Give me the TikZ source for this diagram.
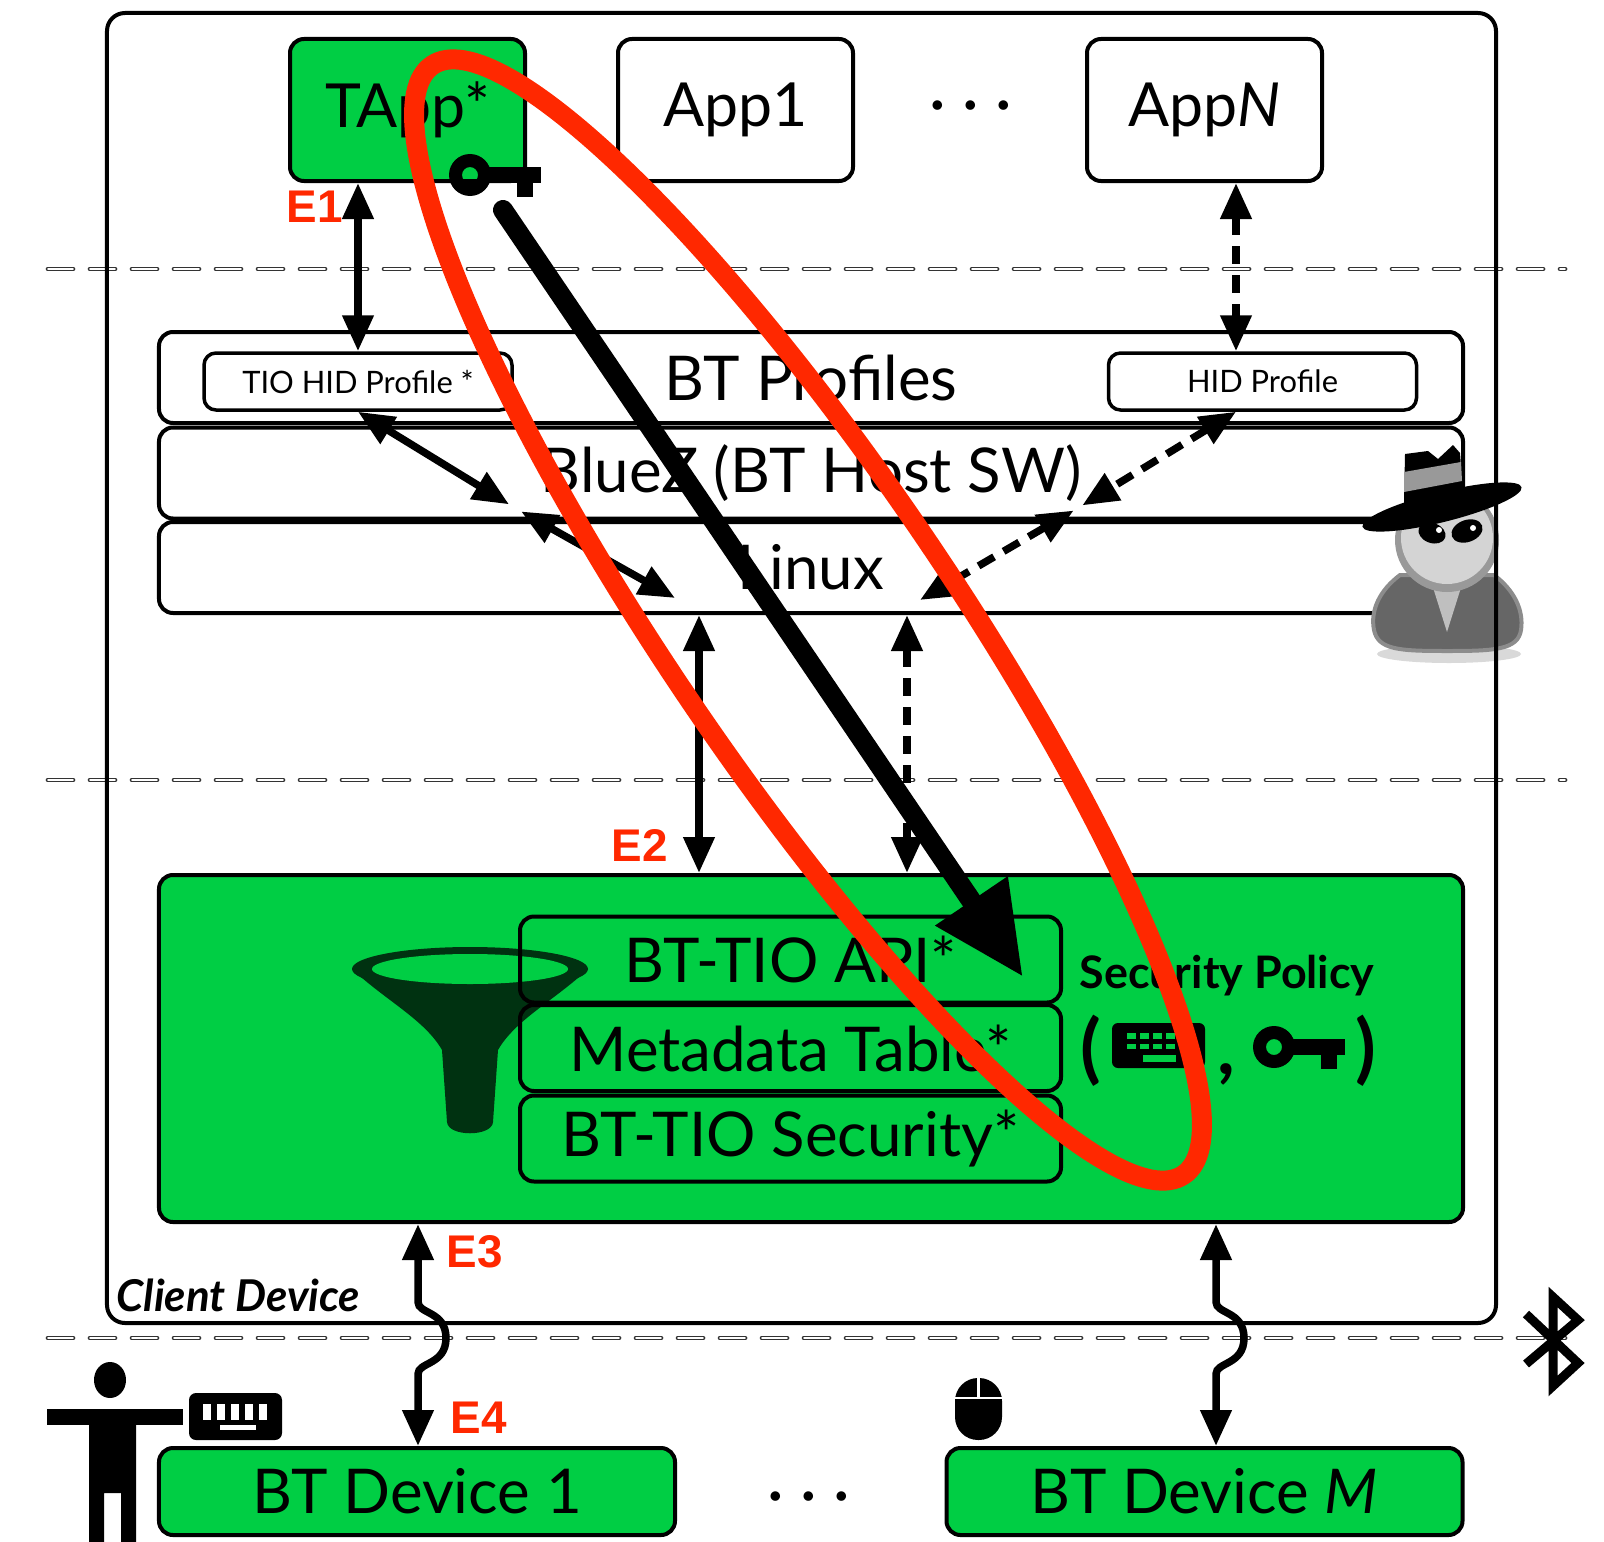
\documentclass[tikz,border=0pt]{standalone}
\usepackage{fontspec}
\setmainfont{Lato}
\newfontfamily\tagfont{Liberation Sans}
\usetikzlibrary{arrows.meta}

\definecolor{teegreen}{RGB}{0,206,68}
\definecolor{funnelgreen}{RGB}{0,50,17}
\definecolor{alertred}{RGB}{255,40,0}

\tikzset{box/.style = {draw, line width=4bp, rounded corners=14bp, inner sep=0pt}}
\tikzset{app/.style = {box, minimum width=235bp, minimum height=142bp, font=\fontsize{61}{66}\selectfont}}
\tikzset{layer/.style = {box, minimum width=1304bp, minimum height=91bp, font=\fontsize{62}{68}\selectfont}}
\tikzset{profile/.style = {box, line width=3.5bp, rounded corners=12bp, minimum width=308bp, minimum height=57bp, font=\fontsize{31}{34}\selectfont}}
\tikzset{module/.style = {box, minimum width=541bp, minimum height=86bp, font=\fontsize{62}{68}\selectfont}}
\tikzset{device/.style = {box, fill=teegreen, minimum width=516bp, minimum height=87bp, font=\fontsize{62}{68}\selectfont}}
\tikzset{link/.style = {line width=7.5bp, {Triangle[length=36bp,width=30bp]}-{Triangle[length=36bp,width=30bp]}}}
\tikzset{dashlink/.style = {link, dash pattern=on 18bp off 11bp}}
\tikzset{leak/.style = {line width=20bp, line cap=round, -{Triangle[length=92bp,width=82bp]}}}
\tikzset{tier/.style = {draw=black!80, line width=1.5bp, double=white, double distance=1.7bp, line cap=round, dash pattern=on 25bp off 17bp}}
\tikzset{elabel/.style = {font=\tagfont\bfseries\fontsize{46}{50}\selectfont, text=alertred}}
\tikzset{warnring/.style = {draw=alertred, line width=20bp}}
\tikzset{keyicon/.pic = {
    \fill[even odd rule] (0,0) circle[radius=21bp] (0,0) circle[radius=8bp];
    \fill (16,-8) rectangle (71,8);
    \fill (47,8) rectangle (63,22);
}}

\begin{document}
\begin{tikzpicture}[x=1bp,y=-1bp]
    \useasboundingbox (0,0) rectangle (1604,1542);
    \fill[white] (0,0) rectangle (1604,1542);

    % trust boundaries
    \foreach \y in {269,780,1338}
        \draw[tier] (48,\y) -- (1565,\y);

    % applications
    \node[app, fill=teegreen] (tapp) at (407.5,110) {TApp*};
    \node[app] (app1) at (735.5,110) {App1};
    \node[font=\fontsize{64}{70}\selectfont, anchor=base] (appdots) at (971,125) {· · ·};
    \node[app] (appn) at (1204.5,110) {App\textit{N}};
    \pic at (470,175) {keyicon};

    % host stack
    \node[layer] (profiles) at (811,377.5) {BT Profiles};
    \node[layer] (bluez) at (811,473) {BlueZ (BT Host SW)};
    \node[layer] (linux) at (811,567.5) {Linux};
    \node[profile] (tiohid) at (358,381.5) {TIO HID Profile *};
    \node[profile] (hid) at (1262.5,381.5) {HID Profile};

    % spy
    \fill[black, opacity=0.15] (1449,654) ellipse[x radius=72bp, y radius=9bp];
    \filldraw[fill=black!60, draw=black!45, line width=4bp] (1400,575) .. controls (1380,590) and (1370,610) .. (1374,630)
        .. controls (1378,650) and (1400,651) .. (1447,651) .. controls (1494,651) and (1518,650) .. (1521,630)
        .. controls (1524,610) and (1514,590) .. (1494,575) -- cycle;
    \fill[black!25] (1430,578) -- (1447,632) -- (1464,578) -- cycle;
    \fill[black!40] (1447,540) circle[radius=52bp];
    \fill[black!17] (1447,538) circle[radius=46bp];
    \fill[rotate around={-20:(1432,533)}] (1432,533) ellipse[x radius=14bp, y radius=10bp];
    \fill[rotate around={20:(1467,531)}] (1467,531) ellipse[x radius=16bp, y radius=11bp];
    \fill[white] (1439,530) circle[radius=3bp] (1473,528) circle[radius=3bp];
    \fill (1404,503) -- (1405,454) -- (1428,451) -- (1438,459) -- (1453,445) -- (1460,453) -- (1463,492) -- cycle;
    \fill[black!40] (1404,472) -- (1461,462) -- (1462,481) -- (1404,492) -- cycle;
    \fill[rotate around={14:(1442,507)}] (1442,507) ellipse[x radius=82bp, y radius=15bp];

    % trusted part
    \node[box, fill=teegreen, minimum width=1304bp, minimum height=347bp] (tee) at (811,1048.5) {};
    \fill[funnelgreen] (470,969) ellipse[x radius=118bp, y radius=22bp];
    \fill[funnelgreen] (352,969) .. controls (385,1000) and (425,1020) .. (442,1050) -- (447,1122)
        .. controls (448,1137) and (492,1137) .. (493,1122) -- (498,1050)
        .. controls (515,1020) and (555,1000) .. (588,969) -- cycle;
    \fill[teegreen] (470,969) ellipse[x radius=98bp, y radius=15bp];
    \node[module] (api) at (790.5,959.5) {BT-TIO API*};
    \node[module] (meta) at (790.5,1048) {Metadata Table*};
    \node[module] (tiosec) at (790.5,1138.5) {BT-TIO Security*};
    \node[font=\bfseries\fontsize{45}{48}\selectfont] (policy) at (1227,976) {Security Policy};
    \node[font=\bfseries\fontsize{76}{80}\selectfont, anchor=base] (lparen) at (1091,1074) {(};
    \node[font=\bfseries\fontsize{76}{80}\selectfont, anchor=base] (comma) at (1226,1074) {,};
    \node[font=\bfseries\fontsize{76}{80}\selectfont, anchor=base] (rparen) at (1366,1074) {)};
    \fill[rounded corners=6bp] (1112,1023) rectangle (1205,1068);
    \foreach \x in {1127,1140,1153,1166,1179} {
        \fill[teegreen] (\x,1033) rectangle ++(9,6);
        \fill[teegreen] (\x,1044) rectangle ++(9,5);
    }
    \fill[teegreen] (1143,1055) rectangle (1176,1062);
    \pic at (1274,1047) {keyicon};

    % peripherals
    \node[device] (dev1) at (417,1491.5) {BT Device 1};
    \node[font=\fontsize{64}{70}\selectfont, anchor=base] (devdots) at (809,1515) {· · ·};
    \node[device] (devm) at (1204.5,1491.5) {BT Device \textit{M}};

    % user with keyboard
    \fill (110,1380) ellipse[x radius=16bp, y radius=18bp];
    \fill (47,1409) rectangle (183,1425);
    \fill (89,1420) -- (89,1542) -- (104,1542) -- (104,1493) -- (121,1493) -- (121,1542) -- (136,1542) -- (136,1420) -- cycle;
    \fill[rounded corners=7bp] (189,1393) rectangle (282,1440);
    \foreach \x in {203,217,231,245,259}
        \fill[white] (\x,1404) rectangle ++(8,16);
    \fill[white] (220,1425) rectangle (256,1430);

    % mouse
    \fill[rounded corners=23bp] (955,1378) rectangle (1002,1440);
    \draw[white, line width=2.5bp] (978.5,1376) -- (978.5,1398) (953,1398) -- (1004,1398);

    % bluetooth
    \draw[line width=9bp, line join=miter] (1526,1314) -- (1578,1363) -- (1553,1386) -- (1553,1297) -- (1578,1320) -- (1526,1364);

    % connectors
    \draw[link] (tiohid.north) -- (tiohid.north |- tapp.south);
    \coordinate (hidport) at (1236,0);
    \draw[dashlink] (hidport |- appn.south) -- (hidport |- hid.north);
    \coordinate (tiojoin) at (515,508);
    \coordinate (tiokernel) at (675,598);
    \draw[link, shorten >=7bp] (tiohid.south) -- (tiojoin);
    \draw[link, shorten <=7bp] (tiojoin) -- (tiokernel);
    \coordinate (hidjoin) at (1078,508);
    \coordinate (hidkernel) at (920,600);
    \draw[dashlink, shorten >=5bp] (hidport |- hid.south) -- (hidjoin);
    \draw[dashlink, shorten <=5bp] (hidjoin) -- (hidkernel);
    \coordinate (tioport) at (699,0);
    \draw[link] (tioport |- linux.south) -- (tioport |- tee.north);
    \coordinate (hidtee) at (907,0);
    \draw[dashlink] (hidtee |- linux.south) -- (hidtee |- tee.north);
    \coordinate (kbdport) at (418,0);
    \coordinate (mouseport) at (1216,0);
    \foreach \p in {kbdport,mouseport}
        \draw[link] (\p |- tee.south) -- ++(0,78) .. controls +(0,12) and +(0,-27) .. ++(28,36)
            .. controls +(0,27) and +(0,-12) .. ++(-28,36) -- (\p |- dev1.north);

    \node[elabel] (e1) at (315,207) {E1};
    \node[elabel] (e2) at (640,845) {E2};
    \node[elabel] (e3) at (475,1252) {E3};
    \node[elabel] (e4) at (479,1418) {E4};

    % client device frame
    \node[box, rounded corners=18bp, minimum width=1389bp, minimum height=1310bp] (client) at (801.5,668) {};
    \node[font=\bfseries\itshape\fontsize{44}{47}\selectfont, anchor=west] (clientlabel) at (113,1295) {Client Device};

    % the attack path
    \coordinate (leakstart) at (503,210);
    \coordinate (leakend) at (1023,977);
    \draw[leak] (leakstart) -- (leakend);
    \draw[warnring, rotate around={-55.9:(808,620)}] (808,620) ellipse[x radius=670bp, y radius=143bp];
\end{tikzpicture}
\end{document}
